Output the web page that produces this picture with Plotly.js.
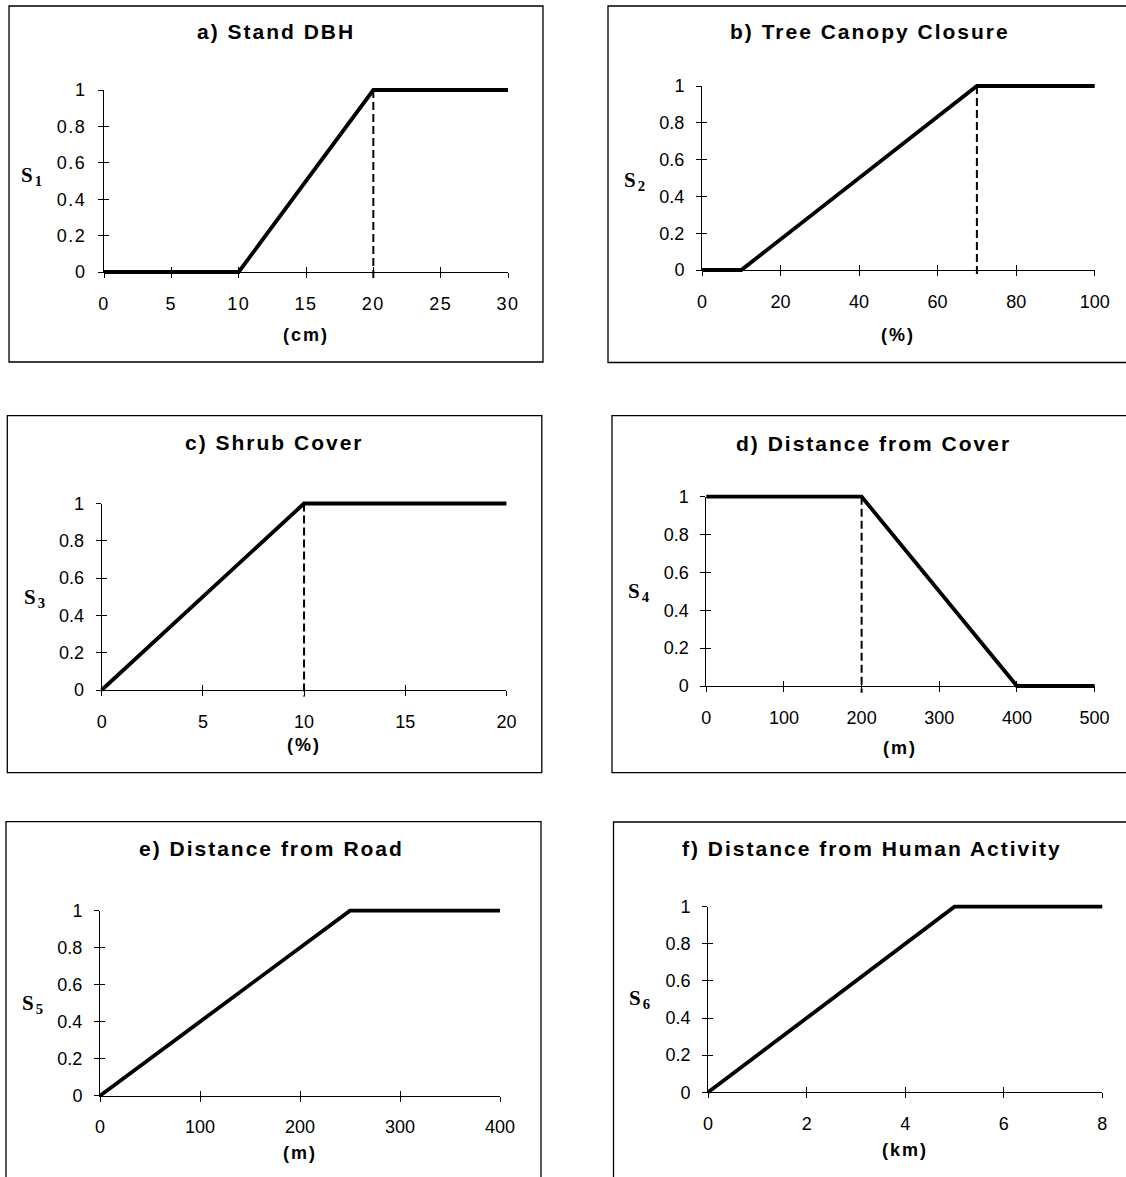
<!DOCTYPE html>
<html><head><meta charset="utf-8">
<script src="https://cdn.plot.ly/plotly-3.0.1.min.js"></script>
<style>
html,body{margin:0;padding:0;background:#fff;}
#chart{width:1126px;height:1177px;}
.xtick text,.ytick text{letter-spacing:1.5px;}
.annotation-text{letter-spacing:2px;}
</style></head><body><div id="chart"></div>
<script>
const W = 1126, H = 1177;

// ---- data ----
const panelTitles = ['a) Stand DBH', 'b) Tree Canopy Closure', 'c) Shrub Cover',
  'd) Distance from Cover', 'e) Distance from Road', 'f) Distance from Human Activity'];
const xUnitLabels = ['(cm)', '(%)', '(%)', '(m)', '(m)', '(km)'];
const yAxisLabels = ['S<sub>1</sub>', 'S<sub>2</sub>', 'S<sub>3</sub>', 'S<sub>4</sub>', 'S<sub>5</sub>', 'S<sub>6</sub>'];

const aX = [0, 10, 20, 30],    aY = [0, 0, 1, 1];
const bX = [0, 10, 70, 100],   bY = [0, 0, 1, 1];
const cX = [0, 10, 20],        cY = [0, 1, 1];
const dX = [0, 200, 400, 500], dY = [1, 1, 0, 0];
const eX = [0, 250, 400],      eY = [0, 1, 1];
const fX = [0, 5, 8],          fY = [0, 1, 1];

const aRefX = [20, 20], bRefX = [70, 70], cRefX = [10, 10], dRefX = [200, 200];
const refY = [1, -0.035];

const aTicks = [0, 5, 10, 15, 20, 25, 30];
const bTicks = [0, 20, 40, 60, 80, 100];
const cTicks = [0, 5, 10, 15, 20];
const dTicks = [0, 100, 200, 300, 400, 500];
const eTicks = [0, 100, 200, 300, 400];
const fTicks = [0, 2, 4, 6, 8];
const yTicks = [0, 0.2, 0.4, 0.6, 0.8, 1];
const xMax = [30, 100, 20, 500, 400, 8];

const series = [
  {x: aX, y: aY, ref: aRefX, ticks: aTicks},
  {x: bX, y: bY, ref: bRefX, ticks: bTicks},
  {x: cX, y: cY, ref: cRefX, ticks: cTicks},
  {x: dX, y: dY, ref: dRefX, ticks: dTicks},
  {x: eX, y: eY, ref: null,  ticks: eTicks},
  {x: fX, y: fY, ref: null,  ticks: fTicks}
];

// ---- geometry (pixels) ----
const geom = [
  {box: [9, 6, 543, 362],          px: [104, 508],     py: [272, 90],      title: [276, 32],     xt: [306, 335],     yl: [32, 176]},
  {box: [608, 6, 1142, 362.5],     px: [702, 1094.7],  py: [270, 86],      title: [870, 32],     xt: [897.6, 335],   yl: [635, 181]},
  {box: [7.3, 415.7, 541.8, 772.7],px: [101.7, 506.4], py: [690, 503.5],   title: [274.6, 442.7],xt: [303.6, 745],   yl: [35, 598]},
  {box: [612, 415.7, 1146, 772.7], px: [706.3, 1094.6],py: [686, 496.7],   title: [873.4, 443.3],xt: [900.3, 748.3], yl: [639, 592]},
  {box: [6, 821.7, 541, 1240],     px: [100, 500],     py: [1095.7, 910.7],title: [271.4, 848.3],xt: [300, 1152.7],  yl: [33, 1004]},
  {box: [613.5, 822, 1146, 1240],  px: [708.1, 1102.3],py: [1092.3, 906.7],title: [871.8, 848.3],xt: [904.6, 1150],  yl: [641, 999]}
];

const fx = p => p / W, fy = p => 1 - p / H;
const axName = (t, n) => t + 'axis' + (n === 1 ? '' : n);
const axRef = (t, n) => t + (n === 1 ? '' : n);
const tickFont = {family: 'Liberation Sans, Arial, sans-serif', size: 18, color: '#000'};
const PADL = 6, PADR = 6, PADT = 4, PADB = 10;

const layout = {
  width: W, height: H, margin: {l: 0, r: 0, t: 0, b: 0},
  paper_bgcolor: '#fff', plot_bgcolor: 'rgba(0,0,0,0)', showlegend: false,
  shapes: [], annotations: []
};
const traces = [];
const emptyTrace = (xa, ya) => ({type: 'scatter', mode: 'lines', x: [], y: [], xaxis: xa, yaxis: ya, hoverinfo: 'skip'});

series.forEach((s, i) => {
  const g = geom[i], n = 3 * i + 1, max = xMax[i];
  const xd = [fx(g.px[0]), fx(g.px[1])];
  const yd = [fy(g.py[0]), fy(g.py[1])];
  const common = {showgrid: false, zeroline: false, fixedrange: true};
  const tickStyle = {ticklen: 5, tickwidth: 1, tickcolor: '#000', tickmode: 'array'};

  layout[axName('x', n)] = Object.assign({}, common, tickStyle, {
    domain: xd, range: [0, max], anchor: axRef('y', n),
    showline: true, linecolor: '#000', linewidth: 1, ticks: 'outside',
    tickvals: s.ticks, tickfont: tickFont, ticklabelstandoff: 10
  });
  layout[axName('y', n)] = Object.assign({}, common, tickStyle, {
    domain: yd, range: [0, 1], anchor: axRef('x', n),
    showline: true, linecolor: '#000', linewidth: 1, ticks: 'outside',
    tickvals: yTicks, tickfont: tickFont, ticklabelstandoff: 8
  });
  layout[axName('x', n + 1)] = Object.assign({}, common, tickStyle, {
    domain: xd, range: [0, max], overlaying: axRef('x', n), anchor: axRef('y', n),
    showline: false, ticks: 'inside', tickvals: s.ticks, showticklabels: false
  });
  layout[axName('y', n + 1)] = Object.assign({}, common, tickStyle, {
    domain: yd, range: [0, 1], overlaying: axRef('y', n), anchor: axRef('x', n),
    showline: false, ticks: 'inside', tickvals: yTicks, showticklabels: false
  });

  const ux = (g.px[1] - g.px[0]) / max, uy = g.py[0] - g.py[1];
  layout[axName('x', n + 2)] = Object.assign({}, common, {
    visible: false, domain: [fx(g.px[0] - PADL), fx(g.px[1] + PADR)],
    range: [-PADL / ux, max + PADR / ux], anchor: axRef('y', n + 2)
  });
  layout[axName('y', n + 2)] = Object.assign({}, common, {
    visible: false, domain: [fy(g.py[0] + PADB), fy(g.py[1] - PADT)],
    range: [-PADB / uy, 1 + PADT / uy], anchor: axRef('x', n + 2)
  });

  traces.push(emptyTrace(axRef('x', n), axRef('y', n)));
  traces.push(emptyTrace(axRef('x', n + 1), axRef('y', n)));
  traces.push(emptyTrace(axRef('x', n), axRef('y', n + 1)));

  traces.push({type: 'scatter', mode: 'lines', x: s.x, y: s.y,
    xaxis: axRef('x', n + 2), yaxis: axRef('y', n + 2),
    line: {color: '#000', width: 3.8}, hoverinfo: 'skip'});
  if (s.ref) {
    traces.push({type: 'scatter', mode: 'lines', x: s.ref, y: refY,
      xaxis: axRef('x', n + 2), yaxis: axRef('y', n + 2),
      line: {color: '#000', width: 2, dash: '8px,4px'}, hoverinfo: 'skip'});
  }

  layout.shapes.push({type: 'rect', xref: 'paper', yref: 'paper',
    x0: fx(g.box[0]), x1: fx(g.box[2]), y0: fy(g.box[3]), y1: fy(g.box[1]),
    line: {color: '#000', width: 1.3}, layer: 'below'});

  layout.annotations.push({xref: 'paper', yref: 'paper', x: fx(g.title[0]), y: fy(g.title[1]),
    xanchor: 'center', yanchor: 'middle', showarrow: false, text: panelTitles[i],
    font: {family: 'Liberation Sans, Arial, sans-serif', size: 21, weight: 'bold', color: '#000'}});
  layout.annotations.push({xref: 'paper', yref: 'paper', x: fx(g.xt[0]), y: fy(g.xt[1]),
    xanchor: 'center', yanchor: 'middle', showarrow: false, text: xUnitLabels[i],
    font: {family: 'Liberation Sans, Arial, sans-serif', size: 18, weight: 'bold', color: '#000'}});
  layout.annotations.push({xref: 'paper', yref: 'paper', x: fx(g.yl[0]), y: fy(g.yl[1]),
    xanchor: 'center', yanchor: 'middle', showarrow: false, text: yAxisLabels[i],
    font: {family: 'Liberation Serif, Times New Roman, serif', size: 21, weight: 'bold', color: '#000'}});
});

Plotly.newPlot('chart', traces, layout, {displayModeBar: false, staticPlot: true});
</script></body></html>
